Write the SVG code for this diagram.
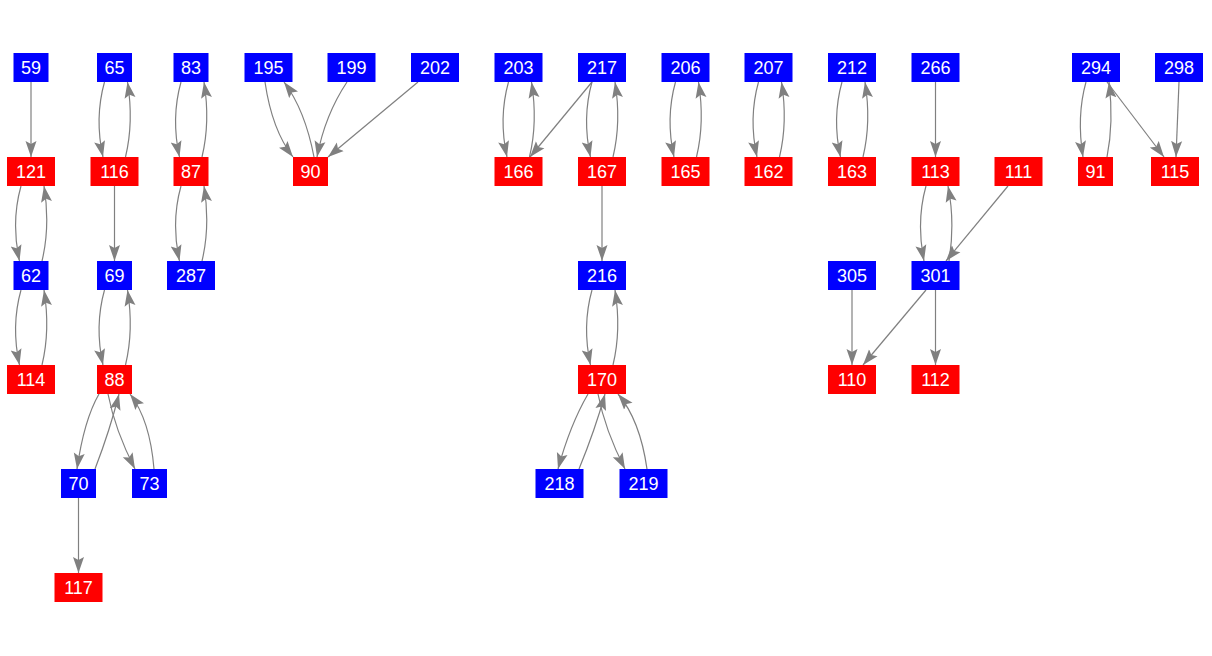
<svg xmlns="http://www.w3.org/2000/svg" width="1212" height="656" viewBox="0 0 1212 656">
<style>
.b{fill:#0000ff}
.r{fill:#ff0000}
text{font-family:"Liberation Sans",Arial,sans-serif;font-size:18px;fill:#ffffff;text-anchor:middle}
#edges path{fill:none;stroke:#808080;stroke-width:1.2;marker-end:url(#a)}
</style>
<defs>
<marker id="a" markerWidth="17" markerHeight="12" refX="16" refY="6" orient="auto" markerUnits="userSpaceOnUse">
<path d="M0,0.5 L16,6 L0,11.5 L3,6 z" fill="#808080"/>
</marker>
</defs>
<rect width="1212" height="656" fill="#ffffff"/>
<g id="edges">
<path d="M31,82 L31,157"/>
<path d="M21,186 C14,211 14,236 19.5,261"/>
<path d="M42,261 C48,236 48,211 44,186"/>
<path d="M21,290 C14,315 14,340 19.5,365"/>
<path d="M42,365 C48,340 48,315 44,290"/>
<path d="M104.5,82 C97.5,107 97.5,132 103,157"/>
<path d="M125.5,157 C131.5,132 131.5,107 127.5,82"/>
<path d="M114.5,186 L114.5,261"/>
<path d="M104.5,290 C97.5,315 97.5,340 103,365"/>
<path d="M125.5,365 C131.5,340 131.5,315 127.5,290"/>
<path d="M99,394 Q84,420 77,469"/>
<path d="M95,469 Q110,430 119,394"/>
<path d="M108,394 Q115,430 135,469"/>
<path d="M154,469 Q150,420 130,394"/>
<path d="M78.5,498 L78.5,573"/>
<path d="M181,82 C174,107 174,132 179.5,157"/>
<path d="M202,157 C208,132 208,107 204,82"/>
<path d="M181,186 C174,211 174,236 179.5,261"/>
<path d="M202,261 C208,236 208,211 204,186"/>
<path d="M265,82 Q272,130 293,157"/>
<path d="M314,157 Q305,110 284,82"/>
<path d="M347,82 Q325,115 317,157"/>
<path d="M418,82 L328,157"/>
<path d="M508.5,82 C501.5,107 501.5,132 507,157"/>
<path d="M529.5,157 C535.5,132 535.5,107 531.5,82"/>
<path d="M592,82 L530,157"/>
<path d="M592,82 C585,107 585,132 590.5,157"/>
<path d="M613,157 C619,132 619,107 615,82"/>
<path d="M602,186 L602,261"/>
<path d="M592,290 C585,315 585,340 590.5,365"/>
<path d="M613,365 C619,340 619,315 615,290"/>
<path d="M588,394 Q570,425 558,469"/>
<path d="M579,469 Q595,430 605,394"/>
<path d="M598,394 Q605,430 625,469"/>
<path d="M647,469 Q640,420 618,394"/>
<path d="M675.5,82 C668.5,107 668.5,132 674,157"/>
<path d="M696.5,157 C702.5,132 702.5,107 698.5,82"/>
<path d="M758.5,82 C751.5,107 751.5,132 757,157"/>
<path d="M779.5,157 C785.5,132 785.5,107 781.5,82"/>
<path d="M842,82 C835,107 835,132 840.5,157"/>
<path d="M863,157 C869,132 869,107 865,82"/>
<path d="M935.5,82 L935.5,157"/>
<path d="M926,186 C919,211 919,236 924,261"/>
<path d="M949,261 C953,236 953,211 948,186"/>
<path d="M1008,186 L946,261"/>
<path d="M852,290 L852,365"/>
<path d="M926,290 L863,365"/>
<path d="M935.5,290 L935.5,365"/>
<path d="M1086,82 C1079,107 1079,132 1083,157"/>
<path d="M1107,157 C1112,132 1112,107 1109,82"/>
<path d="M1107,82 L1164,157"/>
<path d="M1179,82 L1176,157"/>
</g>
<g id="n59"><rect class="b" x="13.5" y="53" width="35" height="29"/><text x="31" y="74">59</text></g>
<g id="n65"><rect class="b" x="97" y="53" width="35" height="29"/><text x="114.5" y="74">65</text></g>
<g id="n83"><rect class="b" x="173.5" y="53" width="35" height="29"/><text x="191" y="74">83</text></g>
<g id="n195"><rect class="b" x="244.5" y="53" width="48" height="29"/><text x="268.5" y="74">195</text></g>
<g id="n199"><rect class="b" x="327.5" y="53" width="48" height="29"/><text x="351.5" y="74">199</text></g>
<g id="n202"><rect class="b" x="411" y="53" width="48" height="29"/><text x="435" y="74">202</text></g>
<g id="n203"><rect class="b" x="494.5" y="53" width="48" height="29"/><text x="518.5" y="74">203</text></g>
<g id="n217"><rect class="b" x="578" y="53" width="48" height="29"/><text x="602" y="74">217</text></g>
<g id="n206"><rect class="b" x="661.5" y="53" width="48" height="29"/><text x="685.5" y="74">206</text></g>
<g id="n207"><rect class="b" x="744.5" y="53" width="48" height="29"/><text x="768.5" y="74">207</text></g>
<g id="n212"><rect class="b" x="828" y="53" width="48" height="29"/><text x="852" y="74">212</text></g>
<g id="n266"><rect class="b" x="911.5" y="53" width="48" height="29"/><text x="935.5" y="74">266</text></g>
<g id="n294"><rect class="b" x="1072" y="53" width="48" height="29"/><text x="1096" y="74">294</text></g>
<g id="n298"><rect class="b" x="1155" y="53" width="48" height="29"/><text x="1179" y="74">298</text></g>
<g id="n121"><rect class="r" x="7" y="157" width="48" height="29"/><text x="31" y="178">121</text></g>
<g id="n116"><rect class="r" x="90.5" y="157" width="48" height="29"/><text x="114.5" y="178">116</text></g>
<g id="n87"><rect class="r" x="173.5" y="157" width="35" height="29"/><text x="191" y="178">87</text></g>
<g id="n90"><rect class="r" x="293" y="157" width="35" height="29"/><text x="310.5" y="178">90</text></g>
<g id="n166"><rect class="r" x="494.5" y="157" width="48" height="29"/><text x="518.5" y="178">166</text></g>
<g id="n167"><rect class="r" x="578" y="157" width="48" height="29"/><text x="602" y="178">167</text></g>
<g id="n165"><rect class="r" x="661.5" y="157" width="48" height="29"/><text x="685.5" y="178">165</text></g>
<g id="n162"><rect class="r" x="744.5" y="157" width="48" height="29"/><text x="768.5" y="178">162</text></g>
<g id="n163"><rect class="r" x="828" y="157" width="48" height="29"/><text x="852" y="178">163</text></g>
<g id="n113"><rect class="r" x="911.5" y="157" width="48" height="29"/><text x="935.5" y="178">113</text></g>
<g id="n111"><rect class="r" x="994.5" y="157" width="48" height="29"/><text x="1018.5" y="178">111</text></g>
<g id="n91"><rect class="r" x="1078" y="157" width="35" height="29"/><text x="1095.5" y="178">91</text></g>
<g id="n115"><rect class="r" x="1151" y="157" width="48" height="29"/><text x="1175" y="178">115</text></g>
<g id="n62"><rect class="b" x="13.5" y="261" width="35" height="29"/><text x="31" y="282">62</text></g>
<g id="n69"><rect class="b" x="97" y="261" width="35" height="29"/><text x="114.5" y="282">69</text></g>
<g id="n287"><rect class="b" x="167" y="261" width="48" height="29"/><text x="191" y="282">287</text></g>
<g id="n216"><rect class="b" x="578" y="261" width="48" height="29"/><text x="602" y="282">216</text></g>
<g id="n305"><rect class="b" x="828" y="261" width="48" height="29"/><text x="852" y="282">305</text></g>
<g id="n301"><rect class="b" x="911.5" y="261" width="48" height="29"/><text x="935.5" y="282">301</text></g>
<g id="n114"><rect class="r" x="7" y="365" width="48" height="29"/><text x="31" y="386">114</text></g>
<g id="n88"><rect class="r" x="97" y="365" width="35" height="29"/><text x="114.5" y="386">88</text></g>
<g id="n170"><rect class="r" x="578" y="365" width="48" height="29"/><text x="602" y="386">170</text></g>
<g id="n110"><rect class="r" x="828" y="365" width="48" height="29"/><text x="852" y="386">110</text></g>
<g id="n112"><rect class="r" x="911.5" y="365" width="48" height="29"/><text x="935.5" y="386">112</text></g>
<g id="n70"><rect class="b" x="61" y="469" width="35" height="29"/><text x="78.5" y="490">70</text></g>
<g id="n73"><rect class="b" x="132" y="469" width="35" height="29"/><text x="149.5" y="490">73</text></g>
<g id="n218"><rect class="b" x="535.5" y="469" width="48" height="29"/><text x="559.5" y="490">218</text></g>
<g id="n219"><rect class="b" x="619.5" y="469" width="48" height="29"/><text x="643.5" y="490">219</text></g>
<g id="n117"><rect class="r" x="54.5" y="573" width="48" height="29"/><text x="78.5" y="594">117</text></g>
</svg>
